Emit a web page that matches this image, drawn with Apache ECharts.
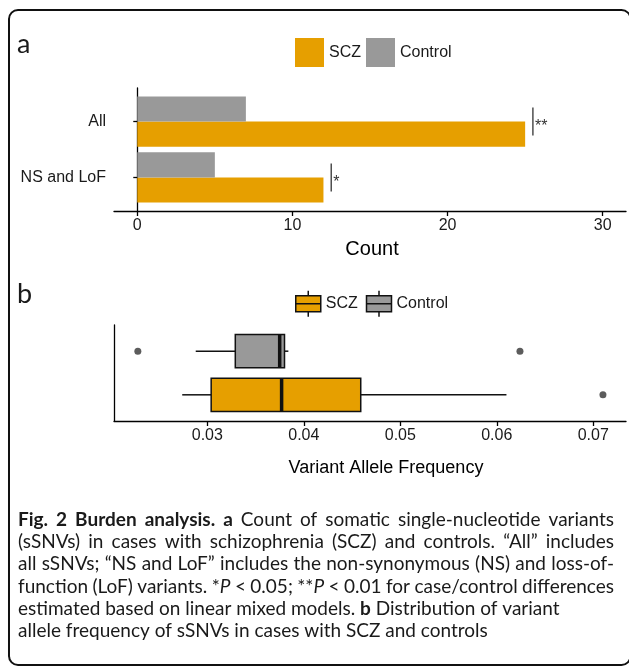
<!DOCTYPE html>
<html><head><meta charset="utf-8">
<script src="https://cdn.jsdelivr.net/npm/echarts@6/dist/echarts.min.js"></script>
<style>html,body{margin:0;padding:0;background:#fff}#c{width:629px;height:667px}</style>
</head><body><div id="c"></div>
<script>
// ---- Panel a data ----
const countCategories = ['All', 'NS and LoF'];
const countSCZ = [25, 12];
const countControl = [7, 5];
const countSigLabels = ['**', '*'];
const countSigX = [25.5, 12.5];
const countTicks = [0, 10, 20, 30];

// ---- Panel b data (top to bottom: Control, SCZ) ----
const vafGroups = ['Control', 'SCZ'];
// [lower whisker, Q1, median, Q3, upper whisker]
const vafStatsControl = [0.0288, 0.0329, 0.0375, 0.0380, 0.0384];
const vafStatsSCZ = [0.0274, 0.0304, 0.0377, 0.0459, 0.0610];
const vafOutliersControl = [0.0228, 0.0624];
const vafOutliersSCZ = [0.0710];
const vafTicks = [0.03, 0.04, 0.05, 0.06, 0.07];

// ---- Caption ----
const captionLines = [
  [['b', 'Fig. 2 Burden analysis. a'], ['', ' Count of somatic single-nucleotide variants']],
  [['', '(sSNVs) in cases with schizophrenia (SCZ) and controls. \u201cAll\u201d includes']],
  [['', 'all sSNVs; \u201cNS and LoF\u201d includes the non-synonymous (NS) and loss-of-']],
  [['', 'function (LoF) variants. *'], ['i', 'P'], ['', ' < 0.05; **'], ['i', 'P'], ['', ' < 0.01 for case/control differences']],
  [['', 'estimated based on linear mixed models. '], ['b', 'b'], ['', ' Distribution of variant']],
  [['', 'allele frequency of sSNVs in cases with SCZ and controls']]
];
const captionJustified = [true, true, true, true, false, false];

const FONT = '"Liberation Sans", Arial, Helvetica, sans-serif';
const CAP_FONT = 'Lato, "Open Sans", sans-serif';
const ORANGE = '#E69F00', GRAY = '#999999', INK = '#1a1a1a';

const chart = echarts.init(document.getElementById('c'), null, {renderer: 'canvas'});

// caption layout helpers
const mctx = document.createElement('canvas').getContext('2d');
function cssFont(st, size) {
  return (st.includes('i') ? 'italic ' : '') + (st.includes('b') ? 'bold ' : '') + size + 'px ' + CAP_FONT;
}
function measure(st, text, size) { mctx.font = cssFont(st, size); return mctx.measureText(text).width; }
function toWords(runs) {
  const words = [[]];
  runs.forEach(([s, t]) => {
    t.split(/( )/).forEach(piece => {
      if (piece === ' ') { if (words[words.length - 1].length) words.push([]); }
      else if (piece) words[words.length - 1].push([s, piece]);
    });
  });
  if (!words[words.length - 1].length) words.pop();
  return words;
}
function lineNatural(runs, size) {
  return runs.reduce((a, [s, t]) => a + measure(s, t, size), 0);
}
const capTarget = 542; // natural width of line 5
let capSize = 20 * capTarget / lineNatural(captionLines[4], 20);
capSize = Math.round(capSize * 10) / 10;

const capLeft = 18, capRight = 614, capTop = 519.5, capStep = 22.3;
const graphics = [];
graphics.push({type: 'rect', shape: {x: 9, y: 10, width: 621.5, height: 655, r: 9},
  style: {fill: 'none', stroke: '#111', lineWidth: 2}, silent: true});
graphics.push({type: 'text', x: 17, y: 44, style: {text: 'a', fontSize: 27, fontFamily: CAP_FONT, fill: INK, verticalAlign: 'middle'}});
graphics.push({type: 'text', x: 17, y: 294, style: {text: 'b', fontSize: 27, fontFamily: CAP_FONT, fill: INK, verticalAlign: 'middle'}});

captionLines.forEach((runs, li) => {
  const words = toWords(runs);
  const widths = words.map(w => w.reduce((a, [s, t]) => a + measure(s, t, capSize), 0));
  const total = widths.reduce((a, b) => a + b, 0);
  const space = measure('', ' ', capSize);
  let gap = space;
  if (captionJustified[li] && words.length > 1) gap = Math.max(space * 0.6, (capRight - capLeft - total) / (words.length - 1));
  let x = capLeft;
  const y = capTop + li * capStep;
  words.forEach((w, wi) => {
    let px = x;
    w.forEach(([s, t]) => {
      graphics.push({type: 'text', x: px, y: y, silent: true, style: {
        text: t, fontSize: capSize, fontFamily: CAP_FONT,
        fontWeight: s.includes('b') ? 'bold' : 'normal',
        fontStyle: s.includes('i') ? 'italic' : 'normal',
        fill: INK, verticalAlign: 'middle', align: 'left'}});
      px += measure(s, t, capSize);
    });
    x += widths[wi] + gap;
  });
});

// ---- render functions ----
function barRender(side, color) {
  return function (params, api) {
    const v = api.value(0), c = api.value(1);
    const p0 = api.coord([0, c]);
    const p1 = api.coord([v, c + side * 0.45]);
    return {type: 'rect', shape: {x: Math.min(p0[0], p1[0]), y: Math.min(p0[1], p1[1]),
      width: Math.abs(p1[0] - p0[0]), height: Math.abs(p1[1] - p0[1])}, style: {fill: color}};
  };
}
function sigRender(params, api) {
  const x = api.value(0), c = api.value(1);
  const a = api.coord([x, c - 0.25]), b = api.coord([x, c + 0.25]), m = api.coord([x, c]);
  return {type: 'group', children: [
    {type: 'line', shape: {x1: a[0], y1: a[1], x2: b[0], y2: b[1]}, style: {stroke: '#333', lineWidth: 1.3}},
    {type: 'text', x: m[0] + 2, y: m[1] + 5, style: {text: countSigLabels[params.dataIndex], fontSize: 16,
      fontFamily: FONT, fill: '#333', align: 'left', verticalAlign: 'middle'}}
  ]};
}
function boxRender(color) {
  return function (params, api) {
    const lo = api.value(0), q1 = api.value(1), med = api.value(2), q3 = api.value(3), hi = api.value(4), c = api.value(5);
    const half = 0.38;
    const pLo = api.coord([lo, c]), pQ1t = api.coord([q1, c - half]), pQ3b = api.coord([q3, c + half]);
    const pHi = api.coord([hi, c]), pMt = api.coord([med, c - half]), pMb = api.coord([med, c + half]);
    const pQ1 = api.coord([q1, c]), pQ3 = api.coord([q3, c]);
    return {type: 'group', children: [
      {type: 'line', shape: {x1: pLo[0], y1: pLo[1], x2: pQ1[0], y2: pQ1[1]}, style: {stroke: '#111', lineWidth: 1.5}},
      {type: 'line', shape: {x1: pQ3[0], y1: pQ3[1], x2: pHi[0], y2: pHi[1]}, style: {stroke: '#111', lineWidth: 1.5}},
      {type: 'rect', shape: {x: pQ1t[0], y: pQ1t[1], width: pQ3b[0] - pQ1t[0], height: pQ3b[1] - pQ1t[1]},
        style: {fill: color, stroke: '#111', lineWidth: 1.5}},
      {type: 'line', shape: {x1: pMt[0], y1: pMt[1], x2: pMb[0], y2: pMb[1]}, style: {stroke: '#111', lineWidth: 3.5}}
    ]};
  };
}

const axisLineStyle = {color: '#000', width: 1.3};
const boxIcon = 'path://M0,5 H25 V21 H0 Z M0,13 H25 M12.5,0 V5 M12.5,21 V26';

const option = {
  animation: false,
  backgroundColor: '#fff',
  textStyle: {fontFamily: FONT},
  legend: [
    {left: 295, top: 38, padding: 0, itemWidth: 29, itemHeight: 29, itemGap: 5, selectedMode: false,
      textStyle: {fontSize: 16, color: INK, fontFamily: FONT},
      data: [
        {name: 'SCZ', icon: 'rect', itemStyle: {color: ORANGE, borderWidth: 0}},
        {name: 'Control', icon: 'rect', itemStyle: {color: GRAY, borderWidth: 0}}
      ]},
    {left: 295, top: 290, padding: 0, itemWidth: 25, itemHeight: 26, itemGap: 8, selectedMode: false,
      textStyle: {fontSize: 16, color: INK, fontFamily: FONT},
      data: [
        {name: 'SCZ', icon: boxIcon, itemStyle: {color: ORANGE, borderColor: '#111', borderWidth: 1.5}},
        {name: 'Control', icon: boxIcon, itemStyle: {color: GRAY, borderColor: '#111', borderWidth: 1.5}}
      ]}
  ],
  grid: [
    {left: 114, top: 88, width: 512, height: 123},
    {left: 114, top: 325, width: 512, height: 96}
  ],
  xAxis: [
    {type: 'value', gridIndex: 0, min: -1.5, max: 31.5,
      axisLine: {show: true, lineStyle: axisLineStyle},
      axisTick: {show: true, customValues: countTicks, length: 5, lineStyle: axisLineStyle},
      axisLabel: {customValues: countTicks, fontSize: 16, color: INK, margin: 7, fontFamily: FONT},
      splitLine: {show: false},
      name: 'Count', nameLocation: 'middle', nameGap: 28,
      nameTextStyle: {fontSize: 20, color: '#000', fontFamily: FONT, padding: [0, 0, 0, 4]}},
    {type: 'value', gridIndex: 1, min: 0.02033, max: 0.07339,
      axisLine: {show: true, lineStyle: axisLineStyle},
      axisTick: {show: true, customValues: vafTicks, length: 5, lineStyle: axisLineStyle},
      axisLabel: {customValues: vafTicks, fontSize: 16, color: INK, margin: 7, fontFamily: FONT,
        formatter: v => v.toFixed(2)},
      splitLine: {show: false},
      name: 'Variant Allele Frequency', nameLocation: 'middle', nameGap: 38,
      nameTextStyle: {fontSize: 18, color: '#000', fontFamily: FONT, padding: [0, 0, 0, 32]}}
  ],
  yAxis: [
    {type: 'value', gridIndex: 0, min: 0.4, max: 2.6, inverse: true,
      axisLine: {show: true, lineStyle: axisLineStyle},
      axisTick: {show: true, customValues: [1, 2], length: 4, lineStyle: axisLineStyle},
      axisLabel: {customValues: [1, 2], fontSize: 16, color: INK, margin: 8, fontFamily: FONT,
        formatter: v => countCategories[Math.round(v) - 1]},
      splitLine: {show: false}},
    {type: 'value', gridIndex: 1, min: 0.4, max: 2.6, inverse: true,
      axisLine: {show: true, lineStyle: axisLineStyle},
      axisTick: {show: false}, axisLabel: {show: false}, splitLine: {show: false}}
  ],
  series: [
    {name: 'SCZ', type: 'custom', coordinateSystem: 'cartesian2d', xAxisIndex: 0, yAxisIndex: 0,
      itemStyle: {color: ORANGE}, renderItem: barRender(1, ORANGE), encode: {x: 0, y: 1},
      data: countSCZ.map((v, i) => [v, i + 1])},
    {name: 'Control', type: 'custom', coordinateSystem: 'cartesian2d', xAxisIndex: 0, yAxisIndex: 0,
      itemStyle: {color: GRAY}, renderItem: barRender(-1, GRAY), encode: {x: 0, y: 1},
      data: countControl.map((v, i) => [v, i + 1])},
    {name: 'significance', type: 'custom', coordinateSystem: 'cartesian2d', xAxisIndex: 0, yAxisIndex: 0,
      renderItem: sigRender, encode: {x: 0, y: 1}, silent: true,
      data: countSigX.map((x, i) => [x, i + 1])},
    {name: 'SCZ', type: 'custom', coordinateSystem: 'cartesian2d', xAxisIndex: 1, yAxisIndex: 1,
      itemStyle: {color: ORANGE, borderColor: '#111', borderWidth: 1.5}, renderItem: boxRender(ORANGE),
      encode: {x: [0, 1, 2, 3, 4], y: 5},
      data: [vafStatsSCZ.concat([vafGroups.indexOf('SCZ') + 1])]},
    {name: 'Control', type: 'custom', coordinateSystem: 'cartesian2d', xAxisIndex: 1, yAxisIndex: 1,
      itemStyle: {color: GRAY, borderColor: '#111', borderWidth: 1.5}, renderItem: boxRender(GRAY),
      encode: {x: [0, 1, 2, 3, 4], y: 5},
      data: [vafStatsControl.concat([vafGroups.indexOf('Control') + 1])]},
    {name: 'outliers', type: 'scatter', xAxisIndex: 1, yAxisIndex: 1, symbolSize: 7, silent: true,
      itemStyle: {color: '#333'},
      data: vafOutliersControl.map(v => [v, vafGroups.indexOf('Control') + 1])
        .concat(vafOutliersSCZ.map(v => [v, vafGroups.indexOf('SCZ') + 1]))}
  ],
  graphic: graphics
};
chart.setOption(option);
</script>
</body></html>
